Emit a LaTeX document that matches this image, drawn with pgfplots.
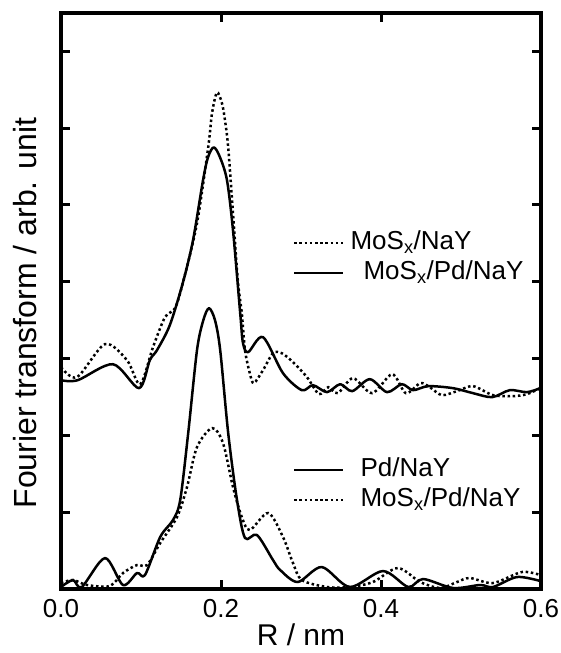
\documentclass[border=0pt]{standalone}
\usepackage{pgfplots}
\pgfplotsset{compat=1.18}
\usepackage{fontspec}
\setmainfont{Liberation Sans}
\tikzset{
  solidcurve/.style={black, line width=2.5pt, smooth, line join=round},
  dotcurve/.style={black, line width=2.5pt, smooth, dash pattern=on 2.5pt off 2.7pt},
}
\begin{document}
\begin{tikzpicture}
\pgfplotsset{
  myaxis/.style={
    scale only axis, width=480pt, height=576pt,
    xmin=0, xmax=0.6, ymin=0, ymax=7.5,
    axis line style={line width=4pt},
    tick style={line width=3pt, black},
    major tick length=9pt,
    tick align=inside,
    legend image code/.code={\draw[##1] (0pt,0pt) -- (49pt,0pt);},
    legend style={draw=none, fill=none, inner sep=0pt, row sep=5pt,
      font=\fontsize{26}{30}\selectfont,
      nodes={inner sep=0pt, text height=19pt, text depth=6pt},
      /tikz/every odd column/.append style={column sep=6pt}},
    legend cell align=left,
  }
}
\begin{axis}[myaxis, name=ax,
  xtick={0,0.2,0.4,0.6},
  xticklabels={0.0,0.2,0.4,0.6},
  ytick={1,2,3,4,5,6,7}, yticklabels={},
  xtick pos=both, ytick pos=both,
  xticklabel style={font=\fontsize{26}{30}\selectfont, anchor=center, yshift=-20pt},
  /pgf/number format/assume math mode=true,
  xlabel={R / nm}, ylabel={Fourier transform / arb. unit},
  label style={font=\fontsize{32}{36}\selectfont},
  xlabel style={at={(axis description cs:0.5,-0.079)}, anchor=center, font=\fontsize{30}{34}\selectfont},
  ylabel style={at={(axis description cs:-0.075,0.479)}, anchor=center},
  legend style={at={(axis description cs:0.483,0.1806)}, anchor=west},
]
% Pd/NaY (lower, solid)
\addplot[solidcurve] coordinates {
(0.000,0.026) (0.015,0.117) (0.026,0.026) (0.055,0.403) (0.0775,0.052)
(0.095,0.208) (0.105,0.182) (0.124,0.677) (0.140,0.898) (0.149,1.158)
(0.159,2.030) (0.170,3.110) (0.1779,3.500) (0.185,3.656) (0.1925,3.500) (0.199,3.110)
(0.209,2.030) (0.220,1.158) (0.230,0.664) (0.245,0.703) (0.265,0.377)
(0.274,0.247) (0.296,0.091) (0.326,0.286) (0.361,0.026) (0.4025,0.234)
(0.434,0.026) (0.4525,0.130) (0.490,0.013) (0.524,0.052) (0.540,0.026)
(0.570,0.156) (0.599,0.104)
};
\addlegendentry{\hspace{10pt}Pd/NaY}
% MoSx/Pd/NaY (lower, dotted)
\addplot[dotcurve] coordinates {
(0.000,0.078) (0.015,0.117) (0.0325,0.052) (0.061,0.039) (0.0775,0.208)
(0.095,0.312) (0.1075,0.312) (0.124,0.598) (0.145,0.937) (0.1575,1.327)
(0.170,1.848) (0.189,2.095) (0.2025,1.900) (0.215,1.327) (0.226,0.937)
(0.236,0.768) (0.259,0.989) (0.2775,0.677) (0.290,0.338) (0.301,0.117)
(0.3325,0.026) (0.361,0.026) (0.390,0.091) (0.421,0.273) (0.449,0.091)
(0.474,0.013) (0.495,0.091) (0.511,0.143) (0.540,0.078) (0.576,0.221)
(0.599,0.182)
};
\addlegendentry{\hspace{10pt}MoS\textsubscript{x}/Pd/NaY}
\end{axis}
\begin{axis}[myaxis, hide axis,
  legend style={at={(axis description cs:0.483,0.575)}, anchor=west},
]
% MoSx/NaY (upper, dotted)
\addplot[dotcurve] coordinates {
(0.000,2.888) (0.020,2.758) (0.055,3.188) (0.0825,2.979) (0.099,2.667)
(0.115,3.149) (0.130,3.539) (0.1425,3.656) (0.1525,3.994) (0.170,4.762)
(0.184,5.751) (0.18875,6.193) (0.195,6.466) (0.20125,6.323) (0.205,6.102)
(0.209,5.751) (0.215,4.892) (0.221,4.020) (0.226,3.591) (0.230,3.110)
(0.236,2.810) (0.241,2.680) (0.2525,2.849) (0.265,3.070) (0.276,3.070)
(0.290,2.953) (0.3075,2.758) (0.3225,2.537) (0.334,2.628) (0.346,2.550)
(0.365,2.745) (0.389,2.550) (0.414,2.797) (0.431,2.550) (0.449,2.680)
(0.461,2.628) (0.476,2.524) (0.495,2.576) (0.515,2.641) (0.540,2.524)
(0.565,2.511) (0.5825,2.537) (0.599,2.615)
};
\addlegendentry{MoS\textsubscript{x}/NaY}
% MoSx/Pd/NaY (upper, solid)
\addplot[solidcurve] coordinates {
(0.000,2.719) (0.021,2.719) (0.065,2.927) (0.0975,2.615) (0.111,2.979)
(0.120,3.110) (0.136,3.435) (0.1525,3.994) (0.165,4.541) (0.1775,5.321)
(0.18375,5.621) (0.191,5.751) (0.19875,5.621) (0.2075,5.321) (0.215,4.671)
(0.224,3.591) (0.2275,3.201) (0.234,3.084) (0.2525,3.279) (0.2775,2.810)
(0.301,2.589) (0.315,2.654) (0.3325,2.563) (0.349,2.667) (0.364,2.576)
(0.386,2.732) (0.4075,2.563) (0.426,2.667) (0.440,2.589) (0.459,2.641)
(0.490,2.615) (0.515,2.550) (0.539,2.498) (0.561,2.589) (0.5825,2.563)
(0.599,2.615)
};
\addlegendentry{\hspace{13pt}MoS\textsubscript{x}/Pd/NaY}
\end{axis}
\pgfresetboundingbox
\path[use as bounding box] ([xshift=-61pt,yshift=-64pt]ax.south west) rectangle ([xshift=19pt,yshift=13pt]ax.north east);
\end{tikzpicture}
\end{document}
